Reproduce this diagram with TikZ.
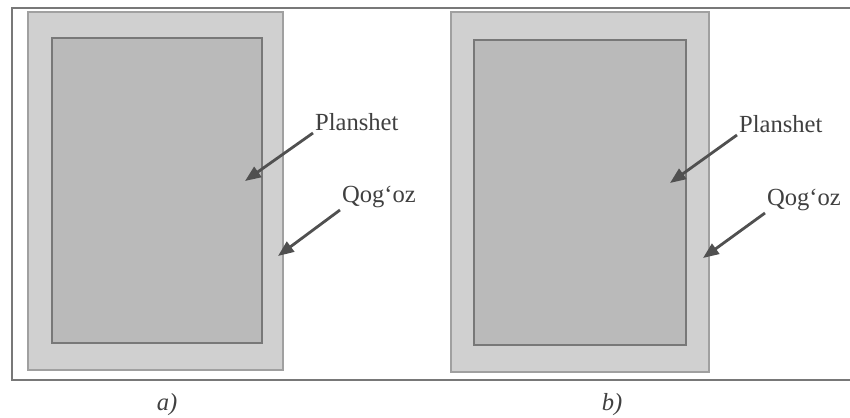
\documentclass[tikz,border=0pt]{standalone}
\usepackage{fontspec}
\setmainfont{Liberation Serif}
\usetikzlibrary{arrows.meta}

\definecolor{sheet}{RGB}{208,208,208}
\definecolor{tablet}{RGB}{186,186,186}
\definecolor{edge}{RGB}{120,120,120}
\definecolor{pointer}{RGB}{80,80,80}

\tikzset{
  sheetbox/.style={fill=sheet, draw=edge!70, line width=0.6pt},
  tabletbox/.style={fill=tablet, draw=edge, line width=0.7pt},
  lbl/.style={font=\fontsize{14}{16}\selectfont, text=black!75, inner sep=1pt},
  arr/.style={pointer, line width=1.6pt, -{Triangle[length=9pt, width=7pt]}}
}

\begin{document}
\begin{tikzpicture}[x=0.02cm, y=-0.02cm]
            \useasboundingbox (0,0) rectangle (850,418);
            \clip (0,0) rectangle (850,418);

            % frame
            \draw[edge, line width=0.9pt] (870,8) -- (12,8) -- (12,380) -- (870,380);

            % a) panel
            \draw[sheetbox] (28,12) rectangle (283,370);
            \draw[tabletbox] (52,38) rectangle (262,343);
            \coordinate (tipPa) at (245,181);
            \coordinate (tipQa) at (278,256);
            \node[lbl, anchor=south west] (Pa) at (313,133) {Planshet};
            \node[lbl, anchor=south west] (Qa) at (340,210) {Qog‘oz};
            \draw[arr] (Pa.south west) -- (tipPa);
            \draw[arr] (Qa.south west) -- (tipQa);

            % b) panel
            \draw[sheetbox] (451,12) rectangle (709,372);
            \draw[tabletbox] (474,40) rectangle (686,345);
            \coordinate (tipPb) at (670,183);
            \coordinate (tipQb) at (703,258);
            \node[lbl, anchor=south west] (Pb) at (737,135) {Planshet};
            \node[lbl, anchor=south west] (Qb) at (765,213) {Qog‘oz};
            \draw[arr] (Pb.south west) -- (tipPb);
            \draw[arr] (Qb.south west) -- (tipQb);

            % captions
            \node[lbl, font=\itshape\fontsize{14}{16}\selectfont] (capa) at (167,405) {a)};
            \node[lbl, font=\itshape\fontsize{14}{16}\selectfont] (capb) at (612,405) {b)};
        \end{tikzpicture}
\end{document}
